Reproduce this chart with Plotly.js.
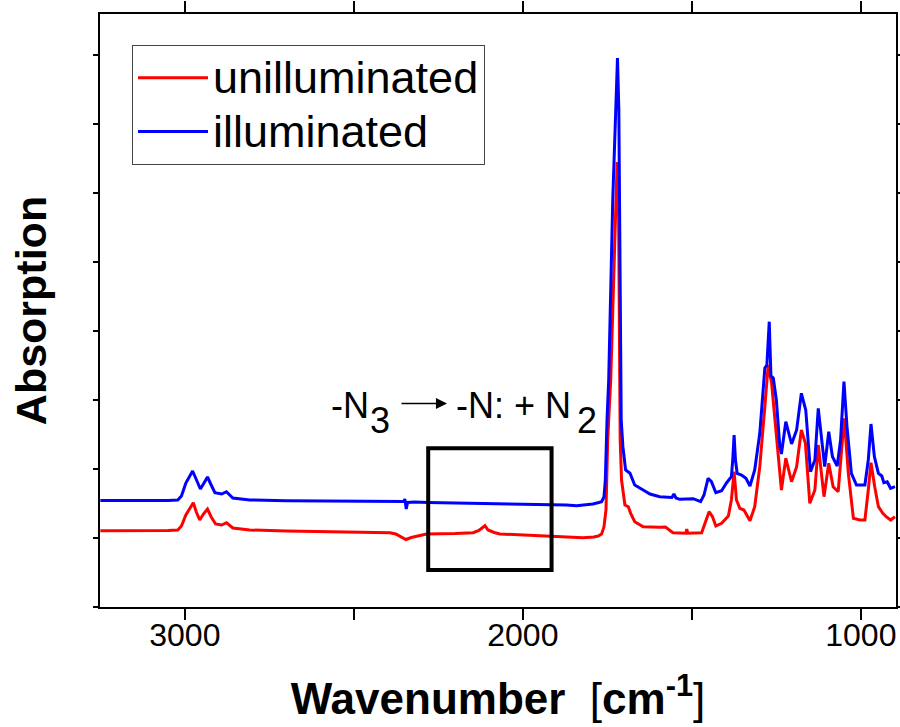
<!DOCTYPE html>
<html>
<head>
<meta charset="utf-8">
<script src="https://cdn.plot.ly/plotly-3.0.1.min.js"></script>
<style>html,body{margin:0;padding:0;background:#fff;}#chart{width:900px;height:727px;}</style>
</head>
<body>
<div id="chart"></div>
<script>
// Wavenumber (cm^-1) and absorption (arbitrary units)
const wnIlluminated = [3250,3150,3050,3021,3010,2997,2985,2977,2968,2954,2945,2933,2922,2911,2891,2877,2858,2808,2700,2600,2512,2450,2374,2352,2349,2345,2341,2320,2281,2200,2100,2000,1900,1871,1841,1810,1793,1775,1767,1760,1756,1751,1746,1734,1726,1720,1716,1713,1712,1709,1704,1696,1683,1676,1669,1644,1624,1595,1559,1553,1547,1536,1496,1474,1464,1452,1442,1429,1412,1397,1383,1379,1375,1371,1366,1353,1340,1328,1314,1299,1284,1278,1271,1266,1259,1250,1240,1235,1222,1205,1190,1176,1163,1149,1136,1126,1114,1107,1095,1084,1070,1060,1050,1041,1028,1013,988,978,970,960,948,938,932,922,912,899];
const absIlluminated = [106.5,106.3,106.5,107,111,124,131,136,129,118,123,130,122,114.3,113,115.3,109,107,106.3,106,106,105.7,105.3,105.5,108,98,104.5,105,104.5,104,103.5,103,102.5,102,101.3,102,103,104.5,105.3,110,127,187,227,407,497,549,497,357,227,187,160.3,137,133.7,127,122,117,113,110.3,109.5,113,109,107.7,108.3,105.3,112,128.7,125.3,114.3,116.3,124.3,130.3,147,172,147,133.7,132,128.7,121,137,173.7,239,242,285.3,231,229,207,162,153,185.3,163,177,213.7,197,135.3,147,198.7,160.3,140.3,175.3,150.3,141,167,225.3,180.3,133.7,122,122,147,183,150.3,133.7,131,124.3,125.3,118.7,120.3];

const wnUnilluminated = [3250,3150,3050,3021,3010,2997,2985,2975,2966,2956,2945,2933,2922,2909,2891,2877,2858,2808,2700,2600,2512,2393,2376,2360,2346,2330,2314,2285,2200,2147,2130,2122,2112,2103,2085,2068,2000,1920,1822,1790,1777,1767,1760,1754,1749,1740,1731,1721,1717,1714,1712,1708,1698,1688,1681,1669,1644,1595,1578,1556,1536,1518,1515,1512,1471,1462,1449,1439,1429,1412,1392,1383,1375,1368,1358,1346,1328,1314,1299,1284,1274,1264,1254,1240,1235,1222,1205,1190,1176,1164,1151,1136,1126,1109,1095,1082,1067,1057,1049,1037,1022,1003,988,978,970,959,948,935,925,912,899];
const absUnilluminated = [76.3,76.2,76.5,77,81,92,99,104.3,95,87,93,98,90,83,82,84.3,79,77,76,75.5,75.3,74.3,73,70,67.5,69.5,71,73,73.5,74.3,76.5,78.7,81.3,77,74.5,73,72,71,69.3,70,71,73,80,97,167,227,337,445,407,227,167,127,102,100.3,93.7,85.3,80.3,79.7,80,74.3,73.7,73.7,78,73.7,74.3,83.7,95.3,90.3,81,83.7,91,107,135.3,107,98.7,97,86.3,100.3,140.3,200.3,242,223.7,187,133.7,117,148.7,125.3,140.3,177,163.7,103.7,117,162,110.3,143.7,120.3,115.3,157,188.7,133.7,88.7,87,87,117,144.3,120.3,100.3,93.7,90.3,87,90.3];

const seriesNames = ["unilluminated", "illuminated"];
const xTickVals = [3000, 2000, 1000];
const xMinorTickVals = [2500, 1500];
const boxRangeWn = [2280, 1915];
const boxRangeAbs = [37, 158.7];

const FONT = "Liberation Sans, Arial, Helvetica, sans-serif";

const traces = [
  {x: wnUnilluminated, y: absUnilluminated, name: '<span style="font-size:45px">' + seriesNames[0] + '</span>',
   type: "scatter", mode: "lines", line: {color: "#ff0000", width: 3}},
  {x: wnIlluminated, y: absIlluminated, name: '<span style="font-size:45px">' + seriesNames[1] + '</span>',
   type: "scatter", mode: "lines", line: {color: "#0000ff", width: 3}}
];

const px = (p) => (p - 100) / 796;   // paper x helper for annotation placement
const py = (p) => (607 - p) / 593;   // paper y helper

const layout = {
  width: 900, height: 727,
  margin: {l: 100, r: 4, t: 14, b: 120},
  paper_bgcolor: "#ffffff", plot_bgcolor: "#ffffff",
  showlegend: true,
  legend: {
    x: px(132), y: py(45), xanchor: "left", yanchor: "top",
    bordercolor: "#444", borderwidth: 1, bgcolor: "#fff",
    font: {family: FONT, size: 39, color: "#000"},
    itemwidth: 70, tracegroupgap: 0
  },
  xaxis: {
    range: [3251, 896], autorange: false,
    tickvals: xTickVals, ticktext: xTickVals.map(String),
    ticks: "outside", ticklen: 11, tickwidth: 2, tickcolor: "#000",
    minor: {tickvals: xMinorTickVals, ticks: "outside", ticklen: 11, tickwidth: 2, tickcolor: "#000", showgrid: false},
    ticklabelstandoff: -12,
    showline: true, linecolor: "#000", linewidth: 2, mirror: "ticks",
    showgrid: false, zeroline: false,
    tickfont: {family: FONT, size: 32, color: "#000"},
    title: {text: "<b>Wavenumber</b>  [<b>cm<sup>-1</sup></b>]", font: {family: FONT, size: 44, color: "#000"}, standoff: 31}
  },
  yaxis: {
    range: [0, 593], autorange: false,
    tick0: 0, dtick: 69,
    ticks: "outside", ticklen: 5, tickwidth: 1.5, tickcolor: "#000",
    showticklabels: false,
    showline: true, linecolor: "#000", linewidth: 2, mirror: "ticks",
    showgrid: false, zeroline: false,
    title: {text: "<b>Absorption</b>", font: {family: FONT, size: 43, color: "#000"}, standoff: 33}
  },
  shapes: [
    {type: "rect", xref: "x", yref: "y", x0: boxRangeWn[0], x1: boxRangeWn[1], y0: boxRangeAbs[0], y1: boxRangeAbs[1],
     line: {color: "#000", width: 4}, fillcolor: "rgba(0,0,0,0)"}
  ],
  annotations: [
    {xref: "paper", yref: "paper", x: px(329), y: py(405), xanchor: "left", yanchor: "middle",
     text: "-N", showarrow: false, font: {family: FONT, size: 36, color: "#000"}},
    {xref: "paper", yref: "paper", x: px(368), y: py(420), xanchor: "left", yanchor: "middle",
     text: "3", showarrow: false, font: {family: FONT, size: 36, color: "#000"}},
    {xref: "paper", yref: "paper", x: px(447), y: py(403.5), ax: -47, ay: 0,
     text: "", showarrow: true, arrowhead: 2, arrowsize: 1.7, arrowwidth: 1.3, arrowcolor: "#000"},
    {xref: "paper", yref: "paper", x: px(454), y: py(405), xanchor: "left", yanchor: "middle",
     text: "-N: + N", showarrow: false, font: {family: FONT, size: 36, color: "#000"}},
    {xref: "paper", yref: "paper", x: px(575), y: py(420), xanchor: "left", yanchor: "middle",
     text: "2", showarrow: false, font: {family: FONT, size: 36, color: "#000"}}
  ]
};

Plotly.newPlot("chart", traces, layout, {displayModeBar: false, staticPlot: true});
</script>
</body>
</html>
